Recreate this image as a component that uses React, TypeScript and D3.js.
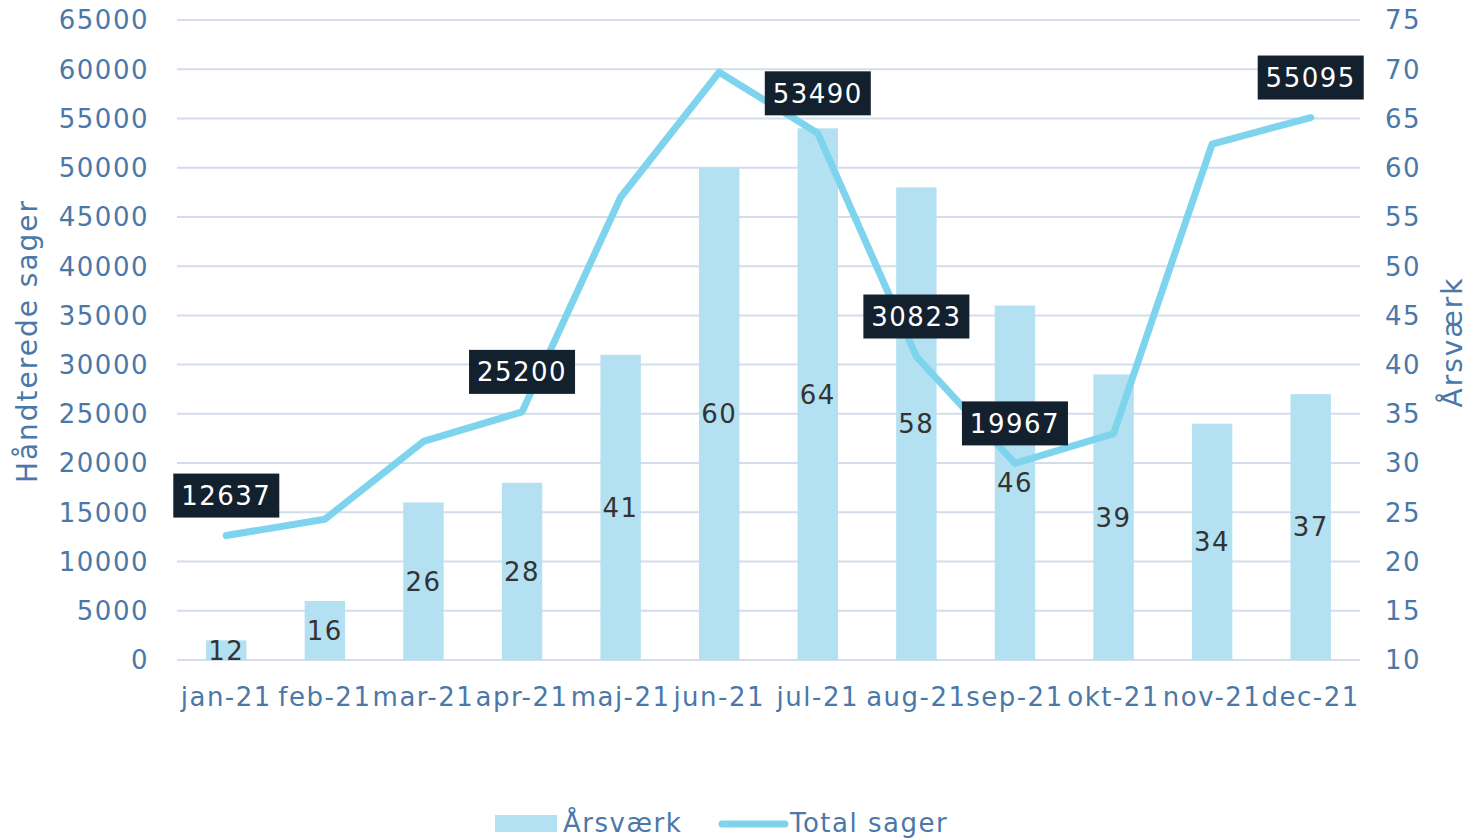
import * as d3 from "d3";

const MONTHS = ["jan-21", "feb-21", "mar-21", "apr-21", "maj-21", "jun-21", "jul-21", "aug-21", "sep-21", "okt-21", "nov-21", "dec-21"];
const AARSVAERK = [12, 16, 26, 28, 41, 60, 64, 58, 46, 39, 34, 37];
const TOTAL_SAGER = [12637, 14300, 22200, 25200, 47000, 59700, 53490, 30823, 19967, 23000, 52400, 55095];
const LABELLED = ["jan-21", "apr-21", "jul-21", "aug-21", "sep-21", "dec-21"];
const LEFT_TICKS = d3.range(0, 65001, 5000);
const RIGHT_TICKS = d3.range(10, 76, 5);

const W = 1468;
const H = 839;
const FONT = "'DejaVu Sans', sans-serif";
const AXIS_COLOR = "#4a78a9";
const GRID = "#d3ddec";
const BAR = "#b4e1f2";
const LINE = "#7fd4ed";
const LS = 1.5; // letter spacing, the original font runs wide

export default function App() {
  const m = { left: 177, right: 1360, top: 20, bottom: 660 };
  const x = d3.scaleBand<string>().domain(MONTHS).range([m.left, m.right]).padding(0);
  const yL = d3.scaleLinear().domain([0, 65000]).range([m.bottom, m.top]);
  const yR = d3.scaleLinear().domain([10, 75]).range([m.bottom, m.top]);
  const barW = x.bandwidth() * 0.41;
  const cx = (d: string) => (x(d) ?? 0) + x.bandwidth() / 2;

  const line = d3
    .line<number>()
    .x((_, i) => cx(MONTHS[i]))
    .y((d) => yL(d));

  return (
    <svg width={W} height={H} style={{ position: "absolute", left: 0, top: 0 }} fontFamily={FONT} letterSpacing={LS}>
      <rect width={W} height={H} fill="#fff" />
      {LEFT_TICKS.map((t) => (
        <g key={t}>
          <line x1={m.left} x2={m.right} y1={yL(t)} y2={yL(t)} stroke={GRID} strokeWidth={2} />
          <text x={149} y={yL(t)} dy="0.36em" textAnchor="end" fontSize={26} fill={AXIS_COLOR}>
            {t}
          </text>
        </g>
      ))}
      {RIGHT_TICKS.map((t) => (
        <text key={t} x={1385} y={yR(t)} dy="0.36em" fontSize={26} fill={AXIS_COLOR}>
          {t}
        </text>
      ))}
      {MONTHS.map((mo) => (
        <text key={mo} x={cx(mo)} y={697} dy="0.36em" textAnchor="middle" fontSize={26} fill={AXIS_COLOR}>
          {mo}
        </text>
      ))}
      <text transform="translate(27,341) rotate(-90)" dy="0.36em" textAnchor="middle" fontSize={28} letterSpacing={2} fill={AXIS_COLOR}>
        Håndterede sager
      </text>
      <text transform="translate(1452,342) rotate(-90)" dy="0.36em" textAnchor="middle" fontSize={28} letterSpacing={2} fill={AXIS_COLOR}>
        Årsværk
      </text>

      {AARSVAERK.map((v, i) => (
        <rect key={i} x={cx(MONTHS[i]) - barW / 2} y={yR(v)} width={barW} height={m.bottom - yR(v)} fill={BAR} />
      ))}

      <path d={line(TOTAL_SAGER) ?? ""} fill="none" stroke={LINE} strokeWidth={7} strokeLinejoin="round" strokeLinecap="round" />

      {AARSVAERK.map((v, i) => (
        <text key={i} x={cx(MONTHS[i])} y={(yR(v) + m.bottom) / 2} dy="0.36em" textAnchor="middle" fontSize={26} fill="#333">
          {v}
        </text>
      ))}

      {TOTAL_SAGER.map((v, i) =>
        LABELLED.includes(MONTHS[i]) ? (
          <g key={i} transform={`translate(${cx(MONTHS[i])},${yL(v) - 40})`}>
            <rect x={-53} y={-22} width={106} height={44} fill="#13202e" />
            <text textAnchor="middle" dy="0.36em" fontSize={26} fill="#fff">
              {v}
            </text>
          </g>
        ) : null
      )}

      <rect x={495} y={815} width={62} height={17} fill={BAR} />
      <text x={563} y={823} dy="0.36em" fontSize={26} fill={AXIS_COLOR}>
        Årsværk
      </text>
      <line x1={722} x2={785} y1={824} y2={824} stroke={LINE} strokeWidth={7} strokeLinecap="round" />
      <text x={790} y={823} dy="0.36em" fontSize={26} fill={AXIS_COLOR}>
        Total sager
      </text>
    </svg>
  );
}
